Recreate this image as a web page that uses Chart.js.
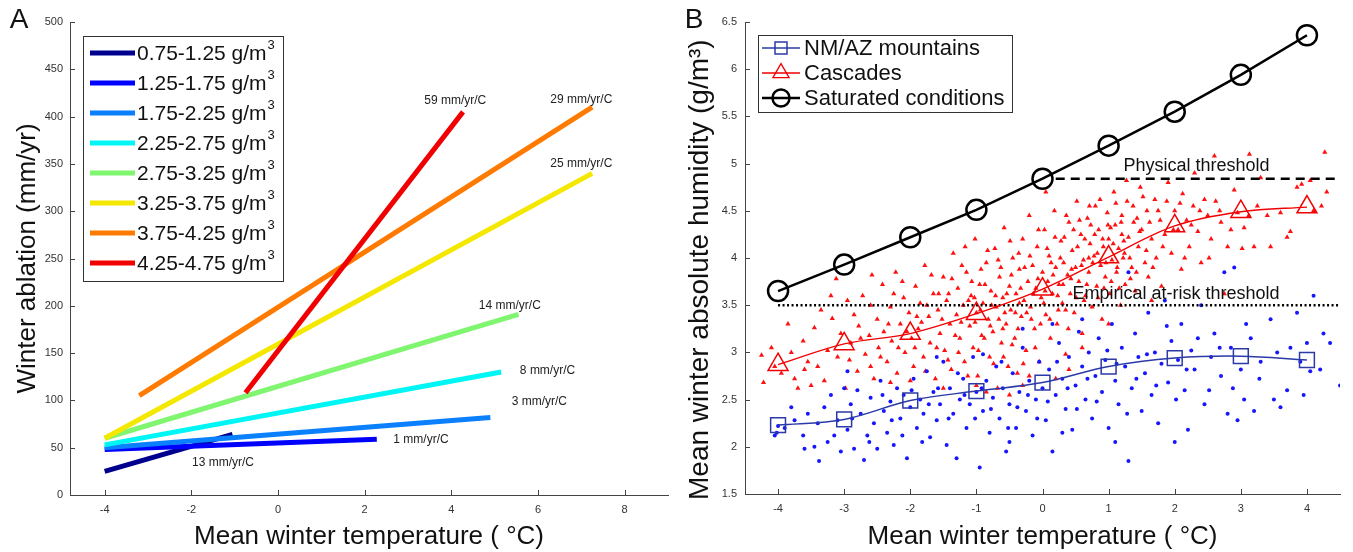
<!DOCTYPE html>
<html><head><meta charset="utf-8">
<script src="https://cdn.jsdelivr.net/npm/chart.js@4.4.1/dist/chart.umd.min.js"></script>
<style>
html,body{margin:0;padding:0;background:#fff;width:1353px;height:552px;overflow:hidden}
#ca{position:absolute;left:0;top:0}
#cb{position:absolute;left:676px;top:0}
</style></head><body>
<canvas id="ca" width="676" height="552"></canvas>
<canvas id="cb" width="677" height="552"></canvas>
<script>
// ---------- Panel A data ----------
const humidityBins = ['0.75-1.25','1.25-1.75','1.75-2.25','2.25-2.75','2.75-3.25','3.25-3.75','3.75-4.25','4.25-4.75'];
const slopeLabels = ['13 mm/yr/C','1 mm/yr/C','3 mm/yr/C','8 mm/yr/C','14 mm/yr/C','25 mm/yr/C','29 mm/yr/C','59 mm/yr/C'];
const startTemp = [-4, -4, -4, -4, -4, -4, -3.2, -0.75];
const startAblation = [25, 48, 50, 53, 60, 60, 105, 108];
const endTemp = [-1.05, 2.28, 4.9, 5.15, 5.55, 7.25, 7.25, 4.27];
const endAblation = [64, 59, 82, 130, 191, 340, 410, 405];
const labelTemp = [-1.27, 3.3, 6.03, 6.22, 5.35, 7.0, 7.0, 4.09];
const labelAblation = [34, 58, 99, 131, 200, 350, 418, 417];
const ablationTicks = [0, 50, 100, 150, 200, 250, 300, 350, 400, 450, 500];
const tempTicksA = [-4, -2, 0, 2, 4, 6, 8];

// ---------- Panel B data ----------
const tempB = [-4, -3, -2, -1, 0, 1, 2, 3, 4];
const nmazMean = [2.23, 2.29, 2.49, 2.59, 2.68, 2.85, 2.94, 2.96, 2.92];
const cascadesMean = [2.87, 3.09, 3.2, 3.41, 3.67, 4.01, 4.34, 4.49, 4.54];
const saturatedMean = [3.65, 3.93, 4.22, 4.51, 4.84, 5.19, 5.55, 5.94, 6.36];
const humidityTicks = [1.5, 2, 2.5, 3, 3.5, 4, 4.5, 5, 5.5, 6, 6.5];
const physicalThreshold = 4.84, physicalFrom = 0.2, physicalTo = 4.5;
const empiricalThreshold = 3.5, empiricalFrom = -4, empiricalTo = 4.5;
const cascadesStations = [
[-4.25,2.97],[-4.22,2.68],[-4.1,3.05],[-3.95,2.78],[-3.8,3.0],[-3.75,2.72],[-3.7,2.62],[-3.62,3.12],[-3.55,2.9],[-3.45,3.26],
[-3.4,2.85],[-3.35,3.45],[-3.3,2.7],[-3.25,3.02],[-3.18,3.36],[-3.12,3.78],[-3.1,2.95],[-3.05,3.2],[-2.98,2.62],[-2.95,3.55],
[-2.9,3.1],[-2.85,3.4],[-2.8,2.8],[-2.78,3.28],[-2.72,3.6],[-2.68,2.98],[-2.62,3.18],[-2.6,3.5],[-2.55,2.72],[-2.5,3.35],
[-2.48,3.05],[-2.42,3.72],[-2.4,3.22],[-2.35,2.9],[-2.3,3.48],[-2.28,3.12],[-2.22,3.85],[-2.2,2.78],[-2.15,3.3],[-2.1,3.58],
[-2.08,3.0],[-2.02,3.42],[-1.98,3.15],[-1.95,2.85],[-1.92,3.7],[-1.88,3.25],[-1.85,3.52],[-1.8,2.95],[-1.78,3.92],[-1.72,3.38],
[-1.7,3.1],[-1.65,3.62],[-1.62,2.72],[-1.58,3.45],[-1.55,3.2],[-1.5,3.8],[-1.48,3.02],[-1.45,3.55],[-1.4,3.3],[-1.38,2.82],
[-1.35,4.05],[-1.3,3.4],[-1.28,3.68],[-1.25,3.15],[-1.2,3.5],[-1.18,2.9],[-1.15,3.85],[-1.1,3.28],[-1.08,3.6],[-1.05,3.05],
[-1.02,4.2],[-1.0,3.42],[-0.98,2.75],[-0.95,3.72],[-0.92,3.18],[-0.9,3.52],[-0.85,3.95],[-0.82,3.35],[-0.8,2.95],[-0.78,3.65],
[-0.75,3.22],[-0.72,4.1],[-0.7,3.48],[-0.68,2.62],[-0.65,3.8],[-0.62,3.1],[-0.6,3.58],[-0.58,4.32],[-0.55,3.3],[-0.52,2.85],
[-0.5,3.7],[-0.48,3.45],[-0.45,4.0],[-0.42,3.15],[-0.4,3.62],[-0.38,2.78],[-0.35,3.88],[-0.32,3.38],[-0.3,4.2],[-0.28,3.55],
[-0.25,3.02],[-0.22,3.75],[-0.2,4.45],[-0.18,3.48],[-0.15,3.92],[-0.12,3.25],[-0.1,3.68],[-0.08,4.12],[-0.05,2.9],[-0.02,3.58],
[0.0,3.85],[0.03,4.3],[0.05,3.4],[0.08,3.75],[0.1,4.02],[0.12,3.15],[0.15,3.62],[0.18,4.5],[0.2,3.9],[0.22,3.3],
[0.25,3.72],[0.28,4.18],[0.3,3.52],[0.32,3.95],[0.35,2.98],[0.38,3.82],[0.4,4.38],[0.42,3.62],[0.45,4.08],[0.48,3.42],
[0.5,3.9],[0.52,4.6],[0.55,3.75],[0.58,4.25],[0.6,3.2],[0.62,3.98],[0.65,3.6],[0.68,4.42],[0.7,3.85],[0.72,4.15],
[0.75,3.48],[0.78,4.02],[0.8,4.55],[0.82,3.7],[0.85,4.3],[0.88,3.92],[0.9,3.35],[0.92,4.12],[0.95,3.8],[0.98,4.48],
[1.0,4.2],[1.02,3.62],[1.05,3.98],[1.08,4.7],[1.1,4.35],[1.12,3.85],[1.15,4.1],[1.18,3.5],[1.2,4.45],[1.22,4.0],
[1.25,3.72],[1.28,4.6],[1.3,4.22],[1.35,3.9],[1.38,4.38],[1.4,3.65],[1.45,4.12],[1.48,4.75],[1.5,4.3],[1.55,3.95],
[1.58,4.5],[1.6,3.8],[1.65,4.2],[1.7,4.62],[1.72,4.0],[1.78,4.4],[1.8,3.7],[1.85,4.25],[1.9,4.8],[1.95,4.05],
[2.0,4.5],[2.05,4.3],[2.1,3.88],[2.12,4.68],[2.18,4.4],[2.22,4.12],[2.28,4.55],[2.35,4.28],[2.4,3.95],[2.45,4.62],
[2.5,4.45],[2.55,4.2],[2.62,4.6],[2.7,4.38],[2.75,3.62],[2.8,4.12],[2.9,4.72],[2.95,4.48],[3.02,4.1],[3.05,4.32],
[3.13,5.1],[3.12,4.45],[3.2,4.12],[3.25,4.55],[3.3,4.85],[3.45,4.12],[3.6,4.48],[3.7,4.22],[3.75,4.28],[3.85,4.75],
[3.92,4.78],[4.05,4.82],[4.1,4.5],[4.27,5.12],[4.22,4.55],[4.3,4.7],[2.6,5.08],[2.3,4.9],[0.05,4.7],[-0.85,2.58],
[-0.3,2.65],[0.2,2.72],[-1.5,2.62],[-2.3,2.68],
[-1.42,3.62],[-1.32,3.18],[-1.22,3.92],[-1.12,3.55],[-1.02,3.32],[-0.93,3.88],[-0.88,3.15],[-0.77,3.5],[-0.67,3.98],[-0.57,3.42],
[-0.47,3.82],[-0.37,3.25],[-0.27,3.9],[-0.17,3.35],[-0.07,3.78],[0.02,3.52],[0.13,3.95],[0.23,3.6],[0.33,4.22],[0.43,3.78],
[0.53,4.12],[0.63,3.55],[0.73,4.35],[0.83,4.05],[0.93,3.68],[1.03,4.32],[1.13,3.9],[1.23,4.18],[1.33,3.78],[1.43,4.42],
[-1.6,3.05],[-1.75,3.5],[-1.9,3.38],[-2.05,3.22],[-2.25,3.62],[-0.6,3.25],[-0.35,3.52],[0.35,3.45],[0.7,4.0],[1.2,4.25],
[-3.85,3.3],[-3.5,2.65],[-3.2,3.6],[-2.92,2.92],[-2.75,3.15],[-2.58,3.82],[-2.45,2.95],[-2.33,3.3],[-2.18,3.05],[-2.12,3.75],
[-2.0,2.7],[-1.93,3.05],[-1.83,3.32],[-1.77,2.8],[-1.68,3.82],[-1.57,3.62],[-1.52,3.35],[-1.43,2.92],[-1.37,3.78],[-1.27,3.0],
[-1.23,3.32],[-1.17,4.12],[-1.13,2.75],[-1.07,3.75],[-1.03,3.58],[-0.97,3.02],[-0.94,3.45],[-0.87,3.72],[-0.83,4.08],[-0.79,3.28],
[-0.74,2.88],[-0.71,3.6],[-0.66,3.35],[-0.63,3.9],[-0.59,2.95],[-0.54,3.62],[-0.49,4.18],[-0.46,3.08],[-0.41,3.42],[-0.36,4.05],
[-0.33,3.68],[-0.29,2.88],[-0.24,3.42],[-0.19,4.02],[-0.14,3.62],[-0.11,3.05],[-0.06,4.3],[-0.03,3.3],[0.04,3.65],[0.07,4.1],
[0.11,3.35],[0.16,3.82],[0.19,4.22],[0.24,3.45],[0.27,4.0],[0.31,3.72],[0.36,4.45],[0.39,3.25],[0.44,3.88],[0.47,4.3],
[0.51,3.58],[0.56,4.4],[0.59,3.92],[0.64,4.2],[0.67,3.72],[0.71,4.55],[0.76,3.95],[0.79,4.25],[0.84,3.58],[0.87,4.62],
[0.91,4.2],[0.96,3.95],[0.99,4.35],[1.04,3.75],[1.07,4.15],[1.11,4.58],[1.16,3.68],[1.19,4.38],[1.24,4.05],[1.27,4.82],
[1.32,4.0],[1.37,4.55],[1.42,3.85],[1.47,4.28],[1.52,4.65],[1.57,4.08],[1.62,4.38],[1.67,3.9],[1.75,4.5],[1.82,4.12],
[1.88,4.6],[1.98,4.3],[2.08,4.58],[2.15,4.0],[2.25,4.35],[2.38,4.5],[2.52,4.0],[2.68,4.5],[2.85,4.3],[3.4,4.45],
[-0.2,2.75],[0.4,2.82],[-1.0,2.65],[-0.5,2.55],[0.6,3.05],[1.0,3.3],[1.65,3.55],[-2.6,2.85],[-3.6,2.82],[-4.05,2.85]
];
const nmazStations = [
[-4.05,2.12],[-4.0,2.22],[-3.9,2.2],[-3.75,2.28],[-3.62,2.12],[-3.55,2.35],[-3.45,2.0],[-3.38,1.85],[-3.3,2.42],[-3.25,2.05],
[-3.2,2.55],[-3.1,2.28],[-3.05,1.95],[-3.0,2.62],[-2.95,2.18],[-2.9,2.45],[-2.85,1.98],[-2.8,2.6],[-2.75,2.35],[-2.7,1.86],
[-2.65,2.12],[-2.6,2.52],[-2.55,2.25],[-2.5,1.98],[-2.45,2.7],[-2.4,2.38],[-2.35,2.15],[-2.3,2.48],[-2.25,2.02],[-2.2,2.62],
[-2.15,2.3],[-2.1,2.55],[-2.05,1.88],[-2.0,2.42],[-1.95,2.72],[-1.9,2.2],[-1.85,2.5],[-1.8,2.35],[-1.75,2.8],[-1.7,2.1],
[-1.65,2.58],[-1.6,2.28],[-1.55,2.45],[-1.5,2.9],[-1.45,2.02],[-1.4,2.62],[-1.35,2.35],[-1.3,1.88],[-1.25,2.5],[-1.2,2.72],
[-1.15,2.2],[-1.1,2.45],[-1.05,2.95],[-1.0,2.58],[-0.95,1.78],[-0.9,2.38],[-0.85,2.7],[-0.8,2.15],[-0.75,2.52],[-0.7,2.85],
[-0.65,2.3],[-0.6,2.62],[-0.55,1.95],[-0.5,2.45],[-0.45,2.78],[-0.4,2.2],[-0.35,2.58],[-0.3,3.05],[-0.25,2.38],[-0.2,2.7],
[-0.15,2.12],[-0.1,2.5],[-0.05,2.9],[0.0,2.62],[0.05,2.28],[0.1,2.82],[0.15,1.95],[0.2,2.55],[0.25,3.1],[0.3,2.72],
[0.35,2.4],[0.4,2.95],[0.45,2.18],[0.5,2.65],[0.55,3.22],[0.6,2.85],[0.65,2.5],[0.7,3.0],[0.75,2.3],[0.8,2.75],
[0.85,3.15],[0.9,2.58],[0.95,2.92],[1.0,2.2],[1.05,3.3],[1.1,2.7],[1.15,2.45],[1.2,3.05],[1.25,2.85],[1.3,1.85],
[1.35,2.62],[1.4,3.2],[1.45,2.95],[1.5,2.38],[1.55,2.78],[1.6,3.42],[1.65,2.55],[1.7,3.0],[1.75,2.25],[1.8,2.88],
[1.85,3.55],[1.9,2.68],[1.95,3.12],[2.0,2.05],[2.05,2.92],[2.1,3.3],[2.15,2.6],[2.2,2.18],[2.25,3.02],[2.3,2.82],
[2.4,3.5],[2.45,2.45],[2.55,2.95],[2.6,3.2],[2.7,2.75],[2.75,3.85],[2.8,2.35],[2.85,3.05],[2.9,3.9],[2.95,2.28],
[3.0,2.82],[3.05,2.5],[3.15,3.15],[3.2,2.38],[3.3,2.9],[3.45,3.35],[3.5,2.5],[3.6,2.42],[3.7,2.6],[3.75,3.05],
[3.85,3.42],[3.9,2.9],[4.0,3.1],[4.05,2.8],[4.1,3.6],[4.2,2.82],[4.25,3.2],[4.5,2.65],[1.3,3.85],[-0.3,3.25],
[-4.02,2.15],[-3.6,1.98],[-2.95,2.8],[-1.6,2.95],[0.6,3.35],[0.15,3.3],[-0.9,2.98],
[-3.8,2.42],[-3.4,2.25],[-3.15,2.12],[-2.88,2.3],[-2.62,2.05],[-2.42,2.55],[-2.28,2.28],[-2.12,2.12],[-1.98,2.6],[-1.82,2.05],
[-1.72,2.45],[-1.58,2.62],[-1.42,2.3],[-1.28,2.78],[-1.18,2.55],[-1.02,2.3],[-0.92,2.62],[-0.78,2.4],[-0.62,2.9],[-0.52,2.2],
[-0.38,2.42],[-0.22,2.55],[-0.08,2.3],[0.08,2.48],[0.22,2.9],[0.38,2.62],[0.52,2.4],[0.68,2.72],[0.82,2.48],[0.98,3.02],
[1.12,2.88],[1.28,2.35],[1.42,2.72],[1.58,2.98],[1.72,2.65],[1.88,3.28],[2.02,2.5],[2.18,2.82],[2.35,3.15],[2.52,2.6],
[2.68,3.05],[2.88,2.62],[3.08,3.3],[3.28,2.72],[3.55,3.0],[3.95,2.55],[4.35,3.1],[1.1,2.05],[-0.5,2.05],[0.3,2.15]
];

// ---------- styles ----------
const FONT = "'Liberation Sans', Arial, Helvetica, sans-serif";
const jet = ['#00008f','#0000ff','#0a80ff','#00f5f5','#80f570','#f5e800','#ff7a00','#f00000'];
Chart.defaults.font.family = FONT;
Chart.defaults.color = '#333';

const inwardTicks = {
  id: 'inwardTicks',
  afterDatasetsDraw(chart, args, opts) {
    const ctx = chart.ctx, a = chart.chartArea, len = opts.len || 5;
    const xs = chart.scales.x, ys = chart.scales.y;
    ctx.save(); ctx.strokeStyle = opts.color || '#444'; ctx.lineWidth = 1;
    ctx.beginPath();
    xs.ticks.forEach(t => { const p = Math.round(xs.getPixelForValue(t.value)) + 0.5; ctx.moveTo(p, a.bottom); ctx.lineTo(p, a.bottom - len); });
    ys.ticks.forEach(t => { const p = Math.round(ys.getPixelForValue(t.value)) + 0.5; ctx.moveTo(a.left, p); ctx.lineTo(a.left + len, p); });
    ctx.stroke(); ctx.restore();
  }
};
const panelLetter = {
  id: 'panelLetter',
  afterDraw(chart, args, opts) {
    const ctx = chart.ctx; ctx.save();
    ctx.font = `28px ${FONT}`; ctx.fillStyle = '#111'; ctx.textAlign = 'center'; ctx.textBaseline = 'middle';
    ctx.fillText(opts.text, opts.x, opts.y); ctx.restore();
  }
};
function supText(ctx, x, y, main, sup, size) {
  ctx.font = `${size}px ${FONT}`; ctx.textAlign = 'left'; ctx.textBaseline = 'middle';
  ctx.fillText(main, x, y);
  const w = ctx.measureText(main).width;
  ctx.font = `${Math.round(size * 0.62)}px ${FONT}`;
  ctx.fillText(sup, x + w + 1, y - size * 0.42);
}
const tickOpts = (pad) => ({font: {size: 11}, color: '#333', padding: pad, callback: v => String(v), maxRotation: 0});
const gridOpts = {display: false, drawTicks: false};

// ---------- Panel A ----------
const legendA = {
  id: 'legendA',
  afterDraw(chart) {
    const ctx = chart.ctx; ctx.save();
    ctx.fillStyle = '#fff'; ctx.fillRect(83, 36, 200, 245);
    ctx.strokeStyle = '#333'; ctx.lineWidth = 1; ctx.strokeRect(83.5, 36.5, 200, 245);
    humidityBins.forEach((b, i) => {
      const y = 53 + 30 * i;
      ctx.strokeStyle = jet[i]; ctx.lineWidth = 5; ctx.lineCap = 'butt';
      ctx.beginPath(); ctx.moveTo(90, y); ctx.lineTo(135, y); ctx.stroke();
      ctx.fillStyle = '#111';
      supText(ctx, 137, y + 1, b + ' g/m', '3', 21);
    });
    ctx.restore();
  }
};
const slopeText = {
  id: 'slopeText',
  afterDatasetsDraw(chart) {
    const ctx = chart.ctx, xs = chart.scales.x, ys = chart.scales.y; ctx.save();
    ctx.font = `12px ${FONT}`; ctx.fillStyle = '#222'; ctx.textAlign = 'center'; ctx.textBaseline = 'middle';
    slopeLabels.forEach((t, i) => ctx.fillText(t, xs.getPixelForValue(labelTemp[i]), ys.getPixelForValue(labelAblation[i])));
    ctx.restore();
  }
};
new Chart(document.getElementById('ca'), {
  type: 'scatter',
  data: {
    datasets: humidityBins.map((b, i) => ({
      label: b + ' g/m³',
      data: [{x: startTemp[i], y: startAblation[i]}, {x: endTemp[i], y: endAblation[i]}],
      showLine: true, borderColor: jet[i], borderWidth: 5, pointRadius: 0, borderCapStyle: 'butt',
      order: 7 - i
    }))
  },
  options: {
    responsive: false, animation: false, devicePixelRatio: 1,
    layout: {padding: {left: 0, right: 8, top: 22, bottom: 0}},
    plugins: {legend: {display: false}, tooltip: {enabled: false},
      inwardTicks: {len: 5, color: '#444'}, panelLetter: {text: 'A', x: 19, y: 20}},
    scales: {
      x: {min: -4.8, max: 9, grid: gridOpts, border: {display: true, color: '#444', width: 1},
        afterBuildTicks: s => { s.ticks = tempTicksA.map(v => ({value: v})); },
        afterFit: s => { s.height = 57; },
        ticks: tickOpts(8),
        title: {display: true, text: 'Mean winter temperature ( °C)', font: {size: 26}, color: '#111', padding: {top: 0, bottom: 0}}},
      y: {min: 0, max: 500, grid: gridOpts, border: {display: true, color: '#444', width: 1},
        afterBuildTicks: s => { s.ticks = ablationTicks.map(v => ({value: v})); },
        afterFit: s => { s.width = 70; },
        ticks: tickOpts(7),
        title: {display: true, text: 'Winter ablation (mm/yr)', font: {size: 26}, color: '#111', padding: {top: 12, bottom: 0}}}
    }
  },
  plugins: [inwardTicks, slopeText, legendA, panelLetter]
});

// ---------- Panel B ----------
const seriesB = [
  {label: 'NM/AZ mountains', color: '#2b3aa6', style: 'rect', r: 10, lw: 1.5},
  {label: 'Cascades', color: '#f00000', style: 'triangle', r: 11, lw: 1.3},
  {label: 'Saturated conditions', color: '#000000', style: 'circle', r: 10, lw: 2.5}
];
const legendB = {
  id: 'legendB',
  afterDraw(chart) {
    const ctx = chart.ctx; ctx.save();
    ctx.fillStyle = '#fff'; ctx.fillRect(82, 35, 254, 77);
    ctx.strokeStyle = '#333'; ctx.lineWidth = 1; ctx.strokeRect(82.5, 35.5, 254, 77);
    seriesB.forEach((s, i) => {
      const y = 48 + 25 * i;
      ctx.strokeStyle = s.color; ctx.lineWidth = s.lw;
      ctx.beginPath(); ctx.moveTo(86, y); ctx.lineTo(124, y); ctx.stroke();
      ctx.fillStyle = 'rgba(0,0,0,0)';
      Chart.helpers.drawPoint(ctx, {pointStyle: s.style, radius: s.r * 0.85, borderWidth: s.lw}, 105, y);
      ctx.fillStyle = '#111'; ctx.font = `22px ${FONT}`; ctx.textAlign = 'left'; ctx.textBaseline = 'middle';
      ctx.fillText(s.label, 128, y + 1);
    });
    ctx.restore();
  }
};
const thresholdText = {
  id: 'thresholdText',
  afterDatasetsDraw(chart) {
    const ctx = chart.ctx, xs = chart.scales.x, ys = chart.scales.y; ctx.save();
    ctx.font = `18px ${FONT}`; ctx.fillStyle = '#111'; ctx.textAlign = 'center'; ctx.textBaseline = 'middle';
    ctx.fillText('Physical threshold', xs.getPixelForValue(2.33), ys.getPixelForValue(physicalThreshold + 0.13));
    ctx.fillText('Empirical at-risk threshold', xs.getPixelForValue(2.02), ys.getPixelForValue(empiricalThreshold + 0.12));
    ctx.restore();
  }
};
const pts = arr => arr.map(p => ({x: p[0], y: p[1]}));
const meanPts = vals => tempB.map((t, i) => ({x: t, y: vals[i]}));
new Chart(document.getElementById('cb'), {
  type: 'scatter',
  data: {
    datasets: [
      {label: 'Saturated conditions', data: meanPts(saturatedMean), showLine: true, borderColor: '#000', borderWidth: 2.5,
        pointStyle: 'circle', pointRadius: 10, pointBorderWidth: 2.5, pointBackgroundColor: 'rgba(0,0,0,0)', pointBorderColor: '#000', order: 0},
      {label: 'Cascades', data: meanPts(cascadesMean), showLine: true, borderColor: '#f00000', borderWidth: 1.3, tension: 0.35,
        pointStyle: 'triangle', pointRadius: 11.5, pointBorderWidth: 1.5, pointBackgroundColor: 'rgba(0,0,0,0)', pointBorderColor: '#f00000', order: 1},
      {label: 'NM/AZ mountains', data: meanPts(nmazMean), showLine: true, borderColor: '#2b3aa6', borderWidth: 1.5, tension: 0.35,
        pointStyle: 'rect', pointRadius: 10.5, pointBorderWidth: 1.5, pointBackgroundColor: 'rgba(0,0,0,0)', pointBorderColor: '#2b3aa6', order: 2},
      {label: 'Physical threshold', data: [{x: physicalFrom, y: physicalThreshold}, {x: physicalTo, y: physicalThreshold}], showLine: true,
        borderColor: '#000', borderWidth: 2.5, borderDash: [9, 6], pointRadius: 0, order: 3},
      {label: 'Empirical at-risk threshold', data: [{x: empiricalFrom, y: empiricalThreshold}, {x: empiricalTo, y: empiricalThreshold}], showLine: true,
        borderColor: '#000', borderWidth: 2.5, borderDash: [2, 2.5], pointRadius: 0, order: 4},
      {label: 'NM/AZ stations', data: pts(nmazStations), pointStyle: 'circle', pointRadius: 2, pointBorderWidth: 0,
        pointBackgroundColor: '#1515ff', order: 5},
      {label: 'Cascades stations', data: pts(cascadesStations), pointStyle: 'triangle', pointRadius: 3, pointBorderWidth: 0,
        pointBackgroundColor: '#ff1010', order: 6}
    ]
  },
  options: {
    responsive: false, animation: false, devicePixelRatio: 1,
    layout: {padding: {left: 0, right: 8, top: 22, bottom: 0}},
    plugins: {legend: {display: false}, tooltip: {enabled: false},
      inwardTicks: {len: 5, color: '#444'}, panelLetter: {text: 'B', x: 18, y: 20}},
    scales: {
      x: {min: -4.5, max: 4.5, grid: gridOpts, border: {display: true, color: '#444', width: 1},
        afterBuildTicks: s => { s.ticks = tempB.map(v => ({value: v})); },
        afterFit: s => { s.height = 58; },
        ticks: tickOpts(8),
        title: {display: true, text: 'Mean winter temperature ( °C)', font: {size: 26}, color: '#111', padding: {top: 0, bottom: 0}}},
      y: {min: 1.5, max: 6.5, grid: gridOpts, border: {display: true, color: '#444', width: 1},
        afterBuildTicks: s => { s.ticks = humidityTicks.map(v => ({value: v})); },
        afterFit: s => { s.width = 69; },
        ticks: tickOpts(8),
        title: {display: true, text: 'Mean winter absolute humidity (g/m³)   ', font: {size: 28}, color: '#111', padding: {top: 7, bottom: 0}}}
    }
  },
  plugins: [inwardTicks, thresholdText, legendB, panelLetter]
});
</script>
</body></html>
